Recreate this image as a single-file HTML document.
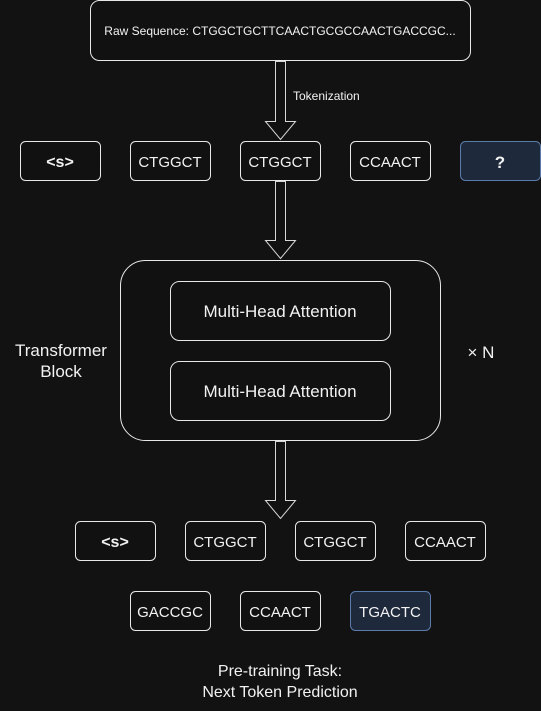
<!DOCTYPE html>
<html><head><meta charset="utf-8"><style>
html,body{margin:0;padding:0;background:#121212;}
svg{display:block;}
text{font-family:"Liberation Sans",sans-serif;fill:#f2f2f2;}
</style></head><body>
<svg width="541" height="711" viewBox="0 0 541 711" xmlns="http://www.w3.org/2000/svg">
<rect width="541" height="711" fill="#121212"/>
<g fill="#111" stroke="#e8e8e8" stroke-width="1">
<rect x="90.5" y="0.5" width="380" height="60" rx="9"/>
</g>
<text x="280" y="35" font-size="12" text-anchor="middle">Raw Sequence: CTGGCTGCTTCAACTGCGCCAACTGACCGC...</text>
<g fill="#111" stroke="#d8d8d8" stroke-width="1">
<path d="M275.5 61.5 V121.5 H265.5 L280.5 139.5 L295.5 121.5 H285.5 V61.5 Z"/>
<path d="M275.5 181.5 V240.5 H265.5 L280.5 258.5 L295.5 240.5 H285.5 V181.5 Z"/>
<path d="M275.5 441.5 V500.5 H265.5 L280.5 518.5 L295.5 500.5 H285.5 V441.5 Z"/>
</g>
<text x="293" y="100" font-size="12">Tokenization</text>
<g fill="#111" stroke="#e8e8e8" stroke-width="1">
<rect x="20.5" y="141.5" width="80" height="39" rx="5"/>
<rect x="130.5" y="141.5" width="80" height="39" rx="5"/>
<rect x="240.5" y="141.5" width="80" height="39" rx="5"/>
<rect x="350.5" y="141.5" width="80" height="39" rx="5"/>
</g>
<rect x="460.5" y="141.5" width="80" height="39" rx="5" fill="#1e293b" stroke="#5a7bab"/>
<g font-size="15" text-anchor="middle">
<text x="60" y="167" font-weight="bold" font-size="16">&lt;s&gt;</text>
<text x="170" y="167">CTGGCT</text>
<text x="280" y="167">CTGGCT</text>
<text x="390" y="167">CCAACT</text>
<text x="500" y="168" font-weight="bold" font-size="17">?</text>
</g>
<g fill="#111" stroke="#e8e8e8" stroke-width="1">
<rect x="120.5" y="260.5" width="320" height="180" rx="25"/>
<rect x="170.5" y="281.5" width="220" height="59" rx="9"/>
<rect x="170.5" y="361.5" width="220" height="59" rx="9"/>
</g>
<g font-size="17" text-anchor="middle">
<text x="280" y="317">Multi-Head Attention</text>
<text x="280" y="397">Multi-Head Attention</text>
<text x="61" y="356">Transformer</text>
<text x="61" y="377">Block</text>
<text x="481" y="358">× N</text>
</g>
<g fill="#111" stroke="#e8e8e8" stroke-width="1">
<rect x="75.5" y="521.5" width="80" height="39" rx="5"/>
<rect x="185.5" y="521.5" width="80" height="39" rx="5"/>
<rect x="295.5" y="521.5" width="80" height="39" rx="5"/>
<rect x="405.5" y="521.5" width="80" height="39" rx="5"/>
<rect x="130.5" y="591.5" width="80" height="39" rx="5"/>
<rect x="240.5" y="591.5" width="80" height="39" rx="5"/>
</g>
<rect x="350.5" y="591.5" width="80" height="39" rx="5" fill="#1e293b" stroke="#5a7bab"/>
<g font-size="15" text-anchor="middle">
<text x="115" y="547" font-weight="bold" font-size="16">&lt;s&gt;</text>
<text x="225" y="547">CTGGCT</text>
<text x="335" y="547">CTGGCT</text>
<text x="445" y="547">CCAACT</text>
<text x="170" y="617">GACCGC</text>
<text x="280" y="617">CCAACT</text>
<text x="390" y="617">TGACTC</text>
</g>
<g font-size="16" text-anchor="middle">
<text x="280" y="676">Pre-training Task:</text>
<text x="280" y="697">Next Token Prediction</text>
</g>
</svg>
</body></html>
